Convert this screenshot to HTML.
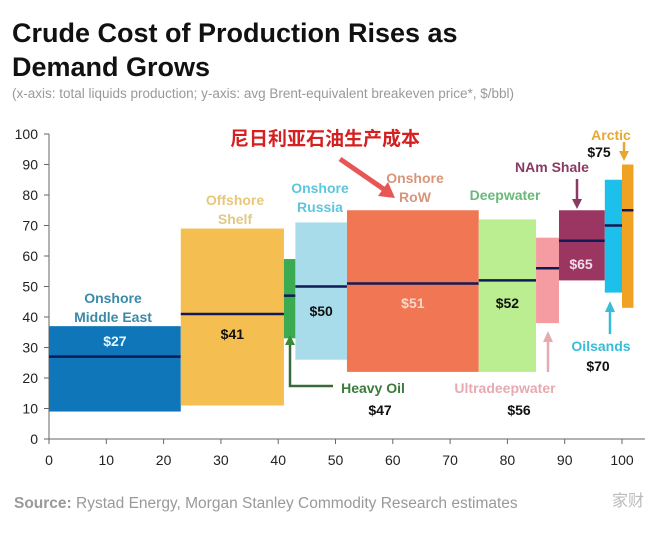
<!DOCTYPE html>
<html><head><meta charset="utf-8"><style>
body{margin:0;background:#fff;width:672px;height:531px;overflow:hidden;font-family:"Liberation Sans","Noto Sans CJK SC",sans-serif}
svg text{font-family:"Liberation Sans","Noto Sans CJK SC",sans-serif}
</style></head><body>
<svg width="672" height="531">
<text x="12" y="42" font-size="27" font-weight="bold" fill="#111">Crude Cost of Production Rises as</text>
<text x="12" y="76" font-size="27" font-weight="bold" fill="#111">Demand Grows</text>
<text x="12" y="98" font-size="13.5" fill="#999">(x-axis: total liquids production; y-axis: avg Brent-equivalent breakeven price*, $/bbl)</text>
<text x="230" y="145" font-size="19" font-weight="bold" fill="#d42020">尼日利亚石油生产成本</text>
<g id="axes"></g>
<g id="bars"></g>
<g id="ann"></g>
<text x="14" y="508" font-size="15.5" fill="#999"><tspan font-weight="bold">Source:</tspan> Rystad Energy, Morgan Stanley Commodity Research estimates</text>
<text x="612" y="506" font-size="16" fill="#bbb">家财</text>
</svg>
<script>
const names=["Onshore Middle East","Offshore Shelf","Heavy Oil","Onshore Russia","Onshore RoW","Deepwater","Ultradeepwater","NAm Shale","Oilsands","Arctic"];
const xStart=[0,23,41,43,52,75,85,89,97,100];
const xEnd=[23,41,43,52,75,85,89,97,100,102];
const lows=[9,11,33,26,22,22,38,52,48,43];
const highs=[37,69,59,71,75,72,66,75,85,90];
const means=[27,41,47,50,51,52,56,65,70,75];
const colors=["#0f76b9","#f5be50","#3aab50","#a9dcea","#f07654","#baee90","#f59ca2","#9b3663","#1cc0ea","#f0a222"];
const xTicks=[0,10,20,30,40,50,60,70,80,90,100];
const yTicks=[0,10,20,30,40,50,60,70,80,90,100];
const X=v=>49+v*5.73, Y=v=>439-v*3.05;
const NS="http://www.w3.org/2000/svg";
function mk(p,t,a,txt){const e=document.createElementNS(NS,t);for(const k in a)e.setAttribute(k,a[k]);if(txt!==undefined)e.textContent=txt;p.appendChild(e);return e;}
const ax=document.getElementById('axes'),bars=document.getElementById('bars'),ann=document.getElementById('ann');
let l=mk(ax,'line',{x1:X(0),x2:X(0),y1:Y(100),y2:Y(0),stroke:'#666'});


l=mk(ax,'line',{x1:X(0),x2:X(104),y1:Y(0),y2:Y(0),stroke:'#666'});


yTicks.forEach(v=>{mk(ax,'line',{x1:X(0)-5,x2:X(0),y1:Y(v),y2:Y(v),stroke:'#666'});
const t=mk(ax,'text',{x:X(0)-11,y:Y(v)+5,'text-anchor':'end','font-size':14,fill:'#222'},v);

});
xTicks.forEach(v=>{mk(ax,'line',{x1:X(v),x2:X(v),y1:Y(0),y2:Y(0)+5,stroke:'#666'});
const t=mk(ax,'text',{x:X(v),y:Y(0)+26,'text-anchor':'middle','font-size':14,fill:'#222'},v);

});
names.forEach((n,i)=>{
const r=mk(bars,'rect',{x:X(xStart[i]),y:Y(highs[i]),width:X(xEnd[i])-X(xStart[i]),height:Y(lows[i])-Y(highs[i]),fill:colors[i]});


const m=mk(bars,'line',{x1:X(xStart[i]),x2:X(xEnd[i]),y1:Y(means[i]),y2:Y(means[i]),stroke:'#111a55','stroke-width':2.5});


});
function T(x,y,s,c,sz){const t=mk(ann,'text',{x:x,y:y,'text-anchor':'middle','font-size':sz||14,'font-weight':'bold',fill:c},s);

return t;}
function cx(i){return (X(xStart[i])+X(xEnd[i]))/2;}
T(113,303,'Onshore','#3a8aa8');T(113,322,'Middle East','#3a8aa8');T(cx(0),346,'$'+means[0],'#e8f6ff');
T(235,205,'Offshore','#e8c878');T(235,224,'Shelf','#e0c88a');T(cx(1),339,'$'+means[1],'#111');
T(320,193,'Onshore','#5cc6dc');T(320,212,'Russia','#5cc6dc');T(cx(3),316,'$'+means[3],'#111');
T(415,183,'Onshore','#d9957a');T(415,202,'RoW','#d9957a');T(cx(4),308,'$'+means[4],'#f8d8c8');
T(505,200,'Deepwater','#6ab87a');T(cx(5),308,'$'+means[5],'#111');
T(373,393,'Heavy Oil','#3a7a3a');T(380,415,'$'+means[2],'#111');
T(505,393,'Ultradeepwater','#e6aab0');T(519,415,'$'+means[6],'#111');
T(552,172,'NAm Shale','#8a3a62');T(581,269,'$'+means[7],'#f0dde8');
T(601,351,'Oilsands','#38bcd8');T(598,371,'$'+means[8],'#111');
T(611,140,'Arctic','#e8a830');T(599,157,'$'+means[9],'#111');
const A=(d,c,w)=>{const p=mk(ann,'path',{d:d,stroke:c,'stroke-width':w||3,fill:'none'});};
A('M340,159 L385,190','#e85555',5);mk(ann,'polygon',{points:'395,198 378,196 388,182',fill:'#e85555'});
A('M333,386 L290,386 L290,342','#3a6a3a',2.5);mk(ann,'polygon',{points:'290,335 285,345 295,345',fill:'#3a8a3a'});
A('M548,372 L548,340','#e6aab0',2.5);mk(ann,'polygon',{points:'548,331 543,342 553,342',fill:'#e6aab0'});
A('M577,179 L577,202','#8a3a62',2.5);mk(ann,'polygon',{points:'577,209 572,199 582,199',fill:'#8a3a62'});
A('M610,334 L610,309','#38bcd8',2.5);mk(ann,'polygon',{points:'610,301 605,312 615,312',fill:'#38bcd8'});
A('M624,142 L624,155','#e8a830',2.5);mk(ann,'polygon',{points:'624,161 619,151 629,151',fill:'#e8a830'});
</script>
</body></html>
